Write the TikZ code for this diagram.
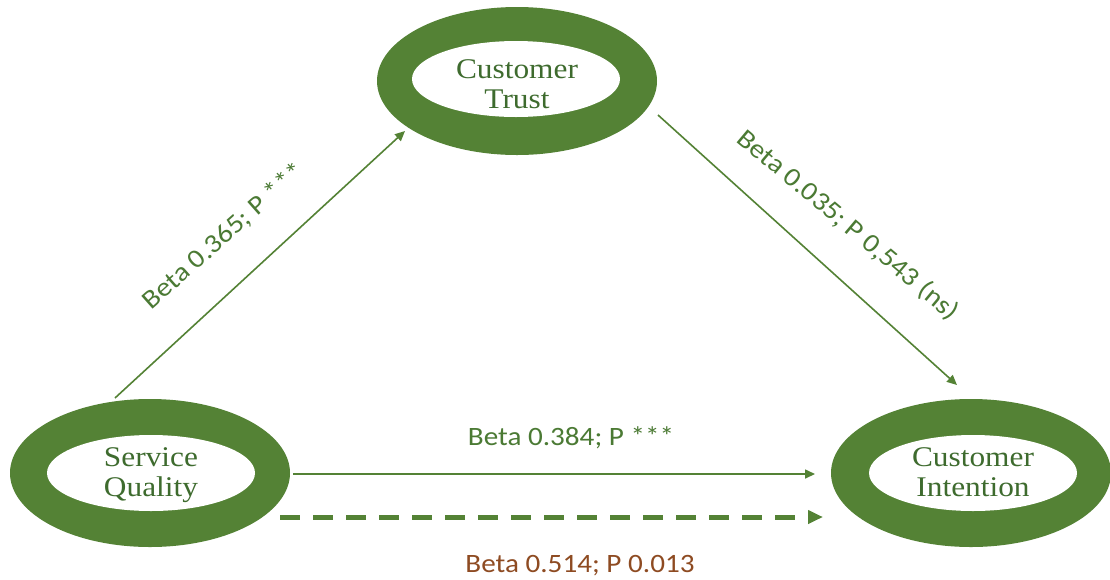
\documentclass[tikz,border=0pt]{standalone}
\usepackage{graphicx}
\usepackage{fontspec}
\setmainfont{Liberation Serif}
\newfontfamily\lblfont{Carlito}
\usetikzlibrary{shapes.geometric,arrows.meta,calc}
\definecolor{ringgreen}{HTML}{548235}
\definecolor{txtgreen}{HTML}{3E6B2E}
\definecolor{lblgreen}{HTML}{4B7A34}
\definecolor{lblbrown}{HTML}{8E4B22}
\newcommand{\hstretch}[1]{\scalebox{1.1}[1]{#1}}
\begin{document}
\begin{tikzpicture}[x=1pt,y=-1pt,
  ring/.style={ellipse, fill=ringgreen, minimum width=280pt, minimum height=148pt, inner sep=0pt},
  hole/.style={ellipse, fill=white, minimum width=208pt, minimum height=76pt, inner sep=0pt},
  nodetext/.style={font=\fontsize{28.5}{29.5}\selectfont, text=txtgreen, align=center, inner sep=0pt},
  conn/.style={draw=ringgreen, line width=1.6pt, -{Triangle[length=10pt,width=9pt]}},
  dashconn/.style={draw=ringgreen, line width=5pt, dash pattern=on 20pt off 13pt, -{Triangle[length=15pt,width=13pt]}},
  lbl/.style={font=\lblfont\fontsize{26.5}{30}\selectfont, text=lblgreen, inner sep=0pt}]
\useasboundingbox (0,0) rectangle (1110,579);
\fill[white] (0,0) rectangle (1110,579);

% Customer Trust
\node[ring] (ct) at (517,81) {};
\node[hole] (cthole) at (516,79) {};
\node[nodetext] (cttext) at (517,84) {\hstretch{Customer}\\\hstretch{Trust}};

% Service Quality
\node[ring] (sq) at (150,473) {};
\node[hole] (sqhole) at (151,473) {};
\node[nodetext] (sqtext) at (151,475) {\hstretch{Service}\\\hstretch{Quality}};

% Customer Intention
\node[ring] (ci) at (971,473) {};
\node[hole] (cihole) at (973,473) {};
\node[nodetext] (citext) at (973,472) {\hstretch{Customer}\\\hstretch{Intention}};

% connectors
\draw[conn] ($(sq.center)+(-35,-75)$) -- ($(ct.center)+(-112,50)$);
\draw[conn] ($(ct.center)+(141,34)$) -- ($(ci.center)+(-14,-88)$);
\draw[conn] ($(sq.center)+(143,1)$) -- ($(ci.center)+(-156,1)$);
\draw[dashconn] ($(sq.center)+(130,44)$) -- ($(ci.center)+(-148,44)$);

% labels
\node[lbl, rotate=41.5] (lsqct) at (224,236) {\hstretch{Beta 0.365; P ***}};
\node[lbl, rotate=-40] (lctci) at (848,225) {\hstretch{Beta 0.035; P 0,543 (ns)}};
\node[lbl, anchor=base] (lsqci) at (571,445) {\hstretch{Beta 0.384; P ***}};
\node[lbl, anchor=base, text=lblbrown] (ltotal) at (580,572) {\hstretch{Beta 0.514; P 0.013}};
\end{tikzpicture}
\end{document}
